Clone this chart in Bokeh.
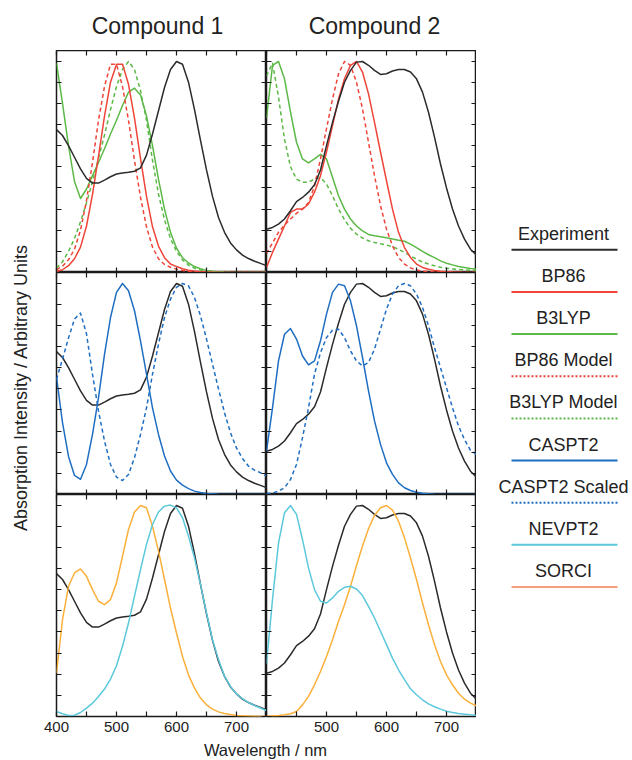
import math
from bokeh.plotting import figure
from bokeh.models import Range1d, LinearAxis, FixedTicker, GridBox
from bokeh.core.properties import value
from bokeh.embed import file_html
from bokeh.resources import INLINE

# ---------------- data ----------------
WL = [400, 410, 420, 430, 440, 450, 460, 470, 480, 490, 500, 510, 520, 530, 540, 550, 560, 570,
      580, 590, 600, 610, 620, 630, 640, 650, 660, 670, 680, 690, 700, 710, 720, 730, 740, 750]

X_TICKS = [400, 450, 500, 550, 600, 650, 700, 750]
X_LABELED = [400, 500, 600, 700]
Y_TICKS = [0.0, 0.1, 0.2, 0.3, 0.4, 0.5, 0.6, 0.7, 0.8, 0.9, 1.0]

TITLES = ["Compound 1", "Compound 2"]

EXP_C1 = [0.676, 0.648, 0.600, 0.545, 0.490, 0.445, 0.423, 0.423, 0.437, 0.453, 0.466, 0.471, 0.474, 0.479,
          0.495, 0.555, 0.655, 0.765, 0.875, 0.960, 0.998, 0.985, 0.900, 0.770, 0.625, 0.485, 0.360, 0.260,
          0.190, 0.140, 0.107, 0.082, 0.066, 0.053, 0.043, 0.032]
EXP_C2 = [0.205, 0.213, 0.229, 0.253, 0.292, 0.335, 0.355, 0.380, 0.415, 0.485, 0.600, 0.710, 0.810, 0.900,
          0.956, 0.995, 0.998, 0.980, 0.956, 0.937, 0.940, 0.953, 0.960, 0.960, 0.948, 0.916, 0.853, 0.758,
          0.640, 0.513, 0.400, 0.300, 0.220, 0.158, 0.110, 0.082]

BP86_C1 = [0.005, 0.013, 0.032, 0.065, 0.120, 0.220, 0.370, 0.550, 0.740, 0.900, 0.985, 0.985, 0.890, 0.730,
           0.540, 0.360, 0.216, 0.125, 0.070, 0.040, 0.028, 0.018, 0.011, 0.007, 0.004, 0.002, 0.001, 0.0,
           0.0, 0.0, 0.0, 0.0, 0.0, 0.0, 0.0, 0.0]
BP86M_C1 = [0.013, 0.030, 0.060, 0.110, 0.200, 0.340, 0.520, 0.720, 0.880, 0.985, 0.985, 0.880, 0.720, 0.530,
            0.356, 0.216, 0.120, 0.065, 0.038, 0.025, 0.016, 0.010, 0.006, 0.003, 0.002, 0.001, 0.0, 0.0,
            0.0, 0.0, 0.0, 0.0, 0.0, 0.0, 0.0, 0.0]
B3LYP_C1 = [0.990, 0.800, 0.600, 0.430, 0.350, 0.395, 0.458, 0.520, 0.585, 0.655, 0.720, 0.790, 0.853, 0.872,
            0.840, 0.740, 0.600, 0.440, 0.300, 0.190, 0.115, 0.070, 0.045, 0.028, 0.018, 0.010, 0.006, 0.003,
            0.001, 0.0, 0.0, 0.0, 0.0, 0.0, 0.0, 0.0]
B3LYPM_C1 = [0.020, 0.050, 0.100, 0.160, 0.240, 0.330, 0.430, 0.540, 0.650, 0.770, 0.880, 0.960, 0.998, 0.960,
             0.860, 0.720, 0.530, 0.370, 0.250, 0.160, 0.100, 0.060, 0.035, 0.020, 0.012, 0.007, 0.004, 0.002,
             0.001, 0.0, 0.0, 0.0, 0.0, 0.0, 0.0, 0.0]

BP86_C2 = [0.024, 0.095, 0.158, 0.220, 0.284, 0.300, 0.300, 0.324, 0.380, 0.458, 0.570, 0.695, 0.820, 0.916,
           0.980, 0.998, 0.948, 0.845, 0.710, 0.570, 0.434, 0.300, 0.190, 0.118, 0.071, 0.040, 0.024, 0.015,
           0.010, 0.006, 0.004, 0.002, 0.001, 0.0, 0.0, 0.0]
BP86M_C2 = [0.090, 0.140, 0.190, 0.225, 0.253, 0.280, 0.300, 0.330, 0.410, 0.537, 0.680, 0.820, 0.940, 0.998,
            0.980, 0.900, 0.774, 0.616, 0.458, 0.316, 0.205, 0.126, 0.071, 0.040, 0.022, 0.012, 0.007, 0.004,
            0.002, 0.001, 0.0, 0.0, 0.0, 0.0, 0.0, 0.0]
B3LYP_C2 = [0.730, 0.980, 0.998, 0.916, 0.758, 0.616, 0.537, 0.518, 0.537, 0.559, 0.537, 0.450, 0.363, 0.300,
            0.253, 0.220, 0.197, 0.180, 0.174, 0.169, 0.164, 0.158, 0.153, 0.148, 0.134, 0.118, 0.100, 0.084,
            0.070, 0.055, 0.044, 0.036, 0.028, 0.024, 0.019, 0.016]
B3LYPM_C2 = [0.930, 0.990, 0.830, 0.630, 0.500, 0.442, 0.427, 0.427, 0.442, 0.449, 0.419, 0.363, 0.300, 0.250,
             0.209, 0.182, 0.163, 0.150, 0.142, 0.136, 0.130, 0.122, 0.110, 0.095, 0.079, 0.063, 0.050, 0.040,
             0.032, 0.025, 0.020, 0.017, 0.014, 0.012, 0.010, 0.009]

CAS_C1 = [0.555, 0.340, 0.180, 0.090, 0.072, 0.142, 0.284, 0.458, 0.663, 0.837, 0.956, 0.998, 0.964, 0.869,
          0.727, 0.569, 0.410, 0.284, 0.182, 0.111, 0.068, 0.044, 0.028, 0.016, 0.009, 0.005, 0.003, 0.001,
          0.0, 0.0, 0.0, 0.0, 0.0, 0.0, 0.0, 0.0]
CASS_C1 = [0.545, 0.640, 0.740, 0.830, 0.858, 0.760, 0.569, 0.395, 0.253, 0.142, 0.082, 0.066, 0.095, 0.174,
           0.284, 0.410, 0.569, 0.711, 0.837, 0.924, 0.980, 0.998, 0.987, 0.932, 0.845, 0.735, 0.616, 0.500,
           0.387, 0.292, 0.220, 0.170, 0.134, 0.115, 0.103, 0.087]
CAS_C2 = [0.205, 0.410, 0.632, 0.758, 0.785, 0.735, 0.655, 0.613, 0.632, 0.727, 0.853, 0.956, 0.995, 0.987,
          0.916, 0.798, 0.648, 0.490, 0.348, 0.237, 0.150, 0.095, 0.055, 0.032, 0.019, 0.011, 0.006, 0.003,
          0.001, 0.0, 0.0, 0.0, 0.0, 0.0, 0.0, 0.0]
CASS_C2 = [0.005, 0.006, 0.016, 0.032, 0.071, 0.142, 0.269, 0.410, 0.569, 0.671, 0.742, 0.777, 0.782, 0.742,
           0.679, 0.632, 0.608, 0.624, 0.687, 0.782, 0.877, 0.948, 0.987, 0.998, 0.987, 0.948, 0.885, 0.798,
           0.695, 0.600, 0.505, 0.410, 0.324, 0.260, 0.209, 0.190]

NEV_C1 = [0.024, 0.013, 0.005, 0.006, 0.019, 0.040, 0.063, 0.095, 0.130, 0.177, 0.240, 0.332, 0.442, 0.569,
          0.695, 0.814, 0.908, 0.967, 0.995, 1.000, 0.987, 0.940, 0.853, 0.750, 0.624, 0.490, 0.363, 0.269,
          0.190, 0.142, 0.107, 0.084, 0.066, 0.052, 0.040, 0.028]
SORCI_C1 = [0.205, 0.458, 0.616, 0.679, 0.698, 0.663, 0.600, 0.545, 0.529, 0.553, 0.632, 0.758, 0.885, 0.967,
            0.998, 0.987, 0.900, 0.782, 0.648, 0.513, 0.395, 0.284, 0.197, 0.134, 0.087, 0.055, 0.035, 0.022,
            0.014, 0.009, 0.005, 0.003, 0.002, 0.001, 0.0, 0.0]
NEV_C2 = [0.250, 0.553, 0.820, 0.964, 0.998, 0.956, 0.837, 0.703, 0.600, 0.545, 0.537, 0.561, 0.592, 0.611,
          0.616, 0.603, 0.572, 0.521, 0.466, 0.403, 0.340, 0.276, 0.221, 0.174, 0.131, 0.103, 0.079, 0.060,
          0.046, 0.035, 0.025, 0.019, 0.014, 0.011, 0.008, 0.006]
SORCI_C2 = [0.002, 0.003, 0.005, 0.008, 0.013, 0.024, 0.055, 0.095, 0.150, 0.213, 0.284, 0.363, 0.450, 0.529,
            0.616, 0.714, 0.806, 0.888, 0.951, 0.987, 0.998, 0.976, 0.924, 0.845, 0.750, 0.648, 0.537, 0.434,
            0.340, 0.260, 0.197, 0.150, 0.110, 0.082, 0.063, 0.050]

LEGEND_LABELS = ["Experiment", "BP86", "B3LYP", "BP86 Model", "B3LYP Model", "CASPT2",
                 "CASPT2 Scaled", "NEVPT2", "SORCI"]

# ---------------- styles ----------------
FONT = "Liberation Sans"
TXT = "#222222"
C_EXP = "#2b2b2b"
C_BP86 = "#ef4438"
C_B3LYP = "#5cb947"
C_CAS = "#1f6ec2"
C_NEV = "#5cc8dc"
C_SORCI = "#fbb03b"
C_SORCI_LEG = "#f59d7c"
SOLID = "solid"
DASH = "4 3"
DOT = "2 2"

LEGEND_COLORS = [C_EXP, C_BP86, C_B3LYP, C_BP86, C_B3LYP, C_CAS, C_CAS, C_NEV, C_SORCI_LEG]
LEGEND_DASHES = [SOLID, SOLID, SOLID, DOT, DOT, SOLID, DOT, SOLID, SOLID]

PANELS = [
    [  # row 0
        [(B3LYP_C1, C_B3LYP, SOLID), (B3LYPM_C1, C_B3LYP, DASH), (BP86M_C1, C_BP86, DASH),
         (BP86_C1, C_BP86, SOLID), (EXP_C1, C_EXP, SOLID)],
        [(B3LYP_C2, C_B3LYP, SOLID), (B3LYPM_C2, C_B3LYP, DASH), (BP86M_C2, C_BP86, DASH),
         (BP86_C2, C_BP86, SOLID), (EXP_C2, C_EXP, SOLID)],
    ],
    [  # row 1
        [(EXP_C1, C_EXP, SOLID), (CASS_C1, C_CAS, DASH), (CAS_C1, C_CAS, SOLID)],
        [(EXP_C2, C_EXP, SOLID), (CASS_C2, C_CAS, DASH), (CAS_C2, C_CAS, SOLID)],
    ],
    [  # row 2
        [(EXP_C1, C_EXP, SOLID), (SORCI_C1, C_SORCI, SOLID), (NEV_C1, C_NEV, SOLID)],
        [(EXP_C2, C_EXP, SOLID), (SORCI_C2, C_SORCI, SOLID), (NEV_C2, C_NEV, SOLID)],
    ],
]

# ---------------- layout sizes (px) ----------------
YLAB_W = 32
LEFT_B = 24
FRAME_W = 210
FRAME_H = 222
TOP_B = 50
BOT_B = 20
XLAB_H = 24
LEG_W = 156
TOTAL_H = TOP_B + 3 * FRAME_H + BOT_B + XLAB_H          # 760
FRAME_BOTTOM = TOP_B + 3 * FRAME_H                       # 716
PLOT_LEFT = YLAB_W + LEFT_B                              # 56
PLOT_RIGHT = PLOT_LEFT + 2 * FRAME_W                     # 476
TITLE_CX = [157, 374]                                    # title centres (screen x)
TITLE_CY = 25                                            # title centre (screen y)


def hidden_axis(ticks, loc, p):
    ax = LinearAxis(ticker=FixedTicker(ticks=ticks))
    ax.axis_line_color = None
    ax.major_tick_in = 5
    ax.major_tick_out = 0
    ax.major_tick_line_color = "#1a1a1a"
    ax.major_tick_line_width = 1.2
    ax.minor_tick_line_color = None
    ax.major_label_text_font_size = "0px"
    ax.major_label_standoff = 0
    ax.major_label_overrides = {t: "" for t in ticks}
    p.add_layout(ax, loc)
    return ax


def make_panel(row, col):
    lb = LEFT_B if col == 0 else 0
    bb = BOT_B if row == 2 else 0
    p = figure(width=FRAME_W + lb, height=FRAME_H + bb,
               x_range=Range1d(400, 750), y_range=Range1d(0, 1.05),
               x_axis_location=None, y_axis_location=None,
               toolbar_location=None, output_backend="svg", title=None,
               min_border_left=lb, min_border_right=0, min_border_top=0, min_border_bottom=bb)
    p.grid.visible = False
    p.outline_line_color = "#1a1a1a"
    p.outline_line_width = 1.5
    p.background_fill_color = "white"
    p.border_fill_color = "white"

    # axes on all four sides, ticks pointing inward
    hidden_axis(Y_TICKS, "left", p)
    hidden_axis(Y_TICKS, "right", p)
    hidden_axis(X_TICKS, "above", p)
    bax = hidden_axis(X_TICKS, "below", p)
    if row == 2:
        labels = {t: ("" if (t not in X_LABELED or (col == 1 and t == 400)) else str(t)) for t in X_TICKS}
        bax.major_label_overrides = labels
        bax.major_label_text_font_size = "15px"
        bax.major_label_text_font = FONT
        bax.major_label_text_color = TXT
        bax.major_label_standoff = 5

    for ys, color, dash in PANELS[row][col]:
        p.line(WL, ys, line_color=color, line_width=1.5, line_dash=dash, line_join="round")
    return p


def blank(width, height, xr, yr, left=0, top=0, bottom=0):
    p = figure(width=width, height=height, x_range=Range1d(*xr), y_range=Range1d(*yr),
               x_axis_location=None, y_axis_location=None, toolbar_location=None,
               output_backend="svg", title=None,
               min_border_left=left, min_border_right=0, min_border_top=top, min_border_bottom=bottom)
    p.outline_line_color = None
    p.grid.visible = False
    return p


panels = {(r, c): make_panel(r, c) for r in range(3) for c in range(2)}

# title row (frames span screen x 56..266 and 266..476, y 0..50)
titles = []
for c in range(2):
    lb = LEFT_B if c == 0 else 0
    t = blank(FRAME_W + lb, TOP_B, (0, FRAME_W), (0, TOP_B), left=lb)
    frame_left = PLOT_LEFT + c * FRAME_W
    t.text(x=[TITLE_CX[c] - frame_left], y=[TOP_B - TITLE_CY], text=[TITLES[c]], text_align="center",
           text_baseline="middle", text_font=value(FONT), text_font_size=value("23px"), text_color=TXT)
    titles.append(t)

# y-axis label column (frame lines up with the panel frames: screen y 50..716)
ylab = blank(YLAB_W, 3 * FRAME_H + BOT_B, (0, YLAB_W), (0, 3 * FRAME_H), bottom=BOT_B)
ylab.text(x=[20], y=[FRAME_BOTTOM - 387], text=["Absorption Intensity / Arbitrary Units"],
          angle=math.pi / 2, text_align="center", text_baseline="middle",
          text_font=value(FONT), text_font_size=value("18px"), text_color=TXT)

# x-axis label row (frame spans screen x 56..476)
xlab = blank(LEFT_B + 2 * FRAME_W, XLAB_H, (0, 2 * FRAME_W), (0, XLAB_H), left=LEFT_B)
xlab.text(x=[265 - PLOT_LEFT], y=[TOTAL_H - 749], text=["Wavelength / nm"], text_align="center",
          text_baseline="middle", text_font=value(FONT), text_font_size=value("16.5px"), text_color=TXT)

# legend column (frame spans screen y 0..760)
leg = blank(LEG_W, TOTAL_H, (0, LEG_W), (0, TOTAL_H))
for i, (lab, col, dash) in enumerate(zip(LEGEND_LABELS, LEGEND_COLORS, LEGEND_DASHES)):
    ty = 233.3 + 42.15 * i
    ly = ty + 16.0
    leg.text(x=[563 - PLOT_RIGHT], y=[TOTAL_H - ty], text=[lab], text_align="center", text_baseline="middle",
             text_font=value(FONT), text_font_size=value("18px"), text_color=TXT)
    leg.line([511 - PLOT_RIGHT, 617 - PLOT_RIGHT], [TOTAL_H - ly, TOTAL_H - ly],
             line_color=col, line_width=2, line_dash=dash)

children = [(titles[0], 0, 1), (titles[1], 0, 2), (ylab, 1, 0, 3, 1)]
for (r, c), p in panels.items():
    children.append((p, r + 1, c + 1))
children.append((xlab, 4, 1, 1, 2))
children.append((leg, 0, 3, 5, 1))

grid = GridBox(children=children, spacing=0)

open("out.html", "w").write(file_html(grid, INLINE))
